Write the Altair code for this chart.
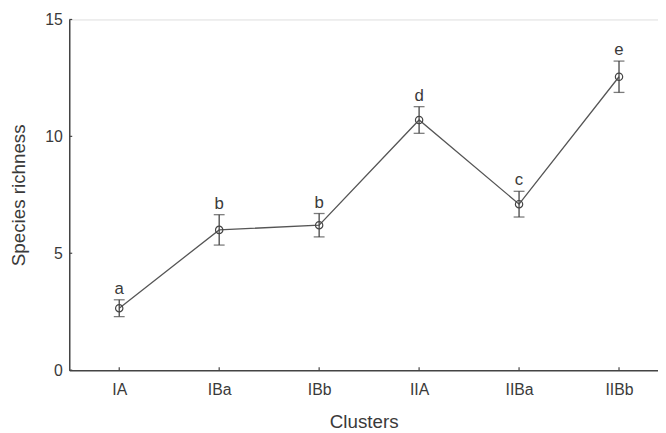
import json
import altair as alt
import pandas as pd

clusters = ["IA", "IBa", "IBb", "IIA", "IIBa", "IIBb"]
means = [2.65, 6.0, 6.2, 10.7, 7.1, 12.55]
errors = [0.36, 0.65, 0.5, 0.57, 0.55, 0.67]
letters = ["a", "b", "b", "d", "c", "e"]
y_ticks = [0, 5, 10, 15]

df = pd.DataFrame({
    "idx": list(range(len(clusters))),
    "cluster": clusters,
    "mean": means,
    "err": errors,
    "letter": letters,
})
df["lo"] = df["mean"] - df["err"]
df["hi"] = df["mean"] + df["err"]

W, H = 596, 355
INK = "#444444"
TXT = "#3a3a3a"
FONT = "Liberation Sans"

xscale = alt.Scale(domain=[-0.5, 5.39], nice=False, zero=False)
yscale = alt.Scale(domain=[0, 15], nice=False)

label_expr = json.dumps(clusters) + "[datum.value]"

x_axis = alt.Axis(values=list(range(len(clusters))), labelExpr=label_expr, title="Clusters",
                  grid=False, ticks=False, labelFontSize=16, titleFontSize=19,
                  labelPadding=12, titlePadding=15, labelColor=TXT, titleColor=TXT,
                  domainColor=INK, domainWidth=1.5, labelFont=FONT, titleFont=FONT,
                  titleFontWeight="normal")
y_axis = alt.Axis(values=y_ticks, title="Species richness", grid=False, ticks=False,
                  labelFontSize=16, titleFontSize=19, labelPadding=7, titlePadding=16,
                  labelColor=TXT, titleColor=TXT, domainColor=INK, domainWidth=1.5,
                  labelFont=FONT, titleFont=FONT, titleFontWeight="normal")


def X(field="idx:Q"):
    return alt.X(field, scale=xscale, axis=x_axis)


def Y(field):
    return alt.Y(field, scale=yscale, axis=y_axis)


base = alt.Chart(df)

line = base.mark_line(color="#555555", strokeWidth=1.3).encode(x=X(), y=Y("mean:Q"))

rules = base.mark_rule(color=INK, strokeWidth=1.3).encode(x=X(), y=Y("lo:Q"), y2="hi:Q")

cap_lo = base.mark_tick(color=INK, orient="horizontal", size=11, thickness=1.3).encode(
    x=X(), y=Y("lo:Q"))
cap_hi = base.mark_tick(color=INK, orient="horizontal", size=11, thickness=1.3).encode(
    x=X(), y=Y("hi:Q"))

points = base.mark_point(shape="circle", filled=False, size=55, color=INK, strokeWidth=1.2,
                         opacity=1).encode(x=X(), y=Y("mean:Q"))

texts = base.mark_text(font=FONT, fontSize=17, color=TXT, baseline="alphabetic", dy=-6).encode(
    x=X(), y=Y("hi:Q"), text="letter:N")

ytick_df = pd.DataFrame({"v": y_ticks})
yticks = alt.Chart(ytick_df).mark_rule(color=INK, strokeWidth=1.2).encode(
    y=Y("v:Q"), x=alt.value(0), x2=alt.value(3))

xticks = base.mark_rule(color=INK, strokeWidth=1.2).encode(
    x=X(), y=alt.value(H), y2=alt.value(H - 3))

chart = alt.layer(line, rules, cap_lo, cap_hi, points, texts, yticks, xticks).properties(
    width=W, height=H,
    autosize=alt.AutoSizeParams(type="none"),
    padding={"left": 62, "top": 9, "right": 0, "bottom": 60},
).configure_view(stroke=None).configure(background="white")

chart.save("out.html", embed_options={"renderer": "svg", "actions": False})
